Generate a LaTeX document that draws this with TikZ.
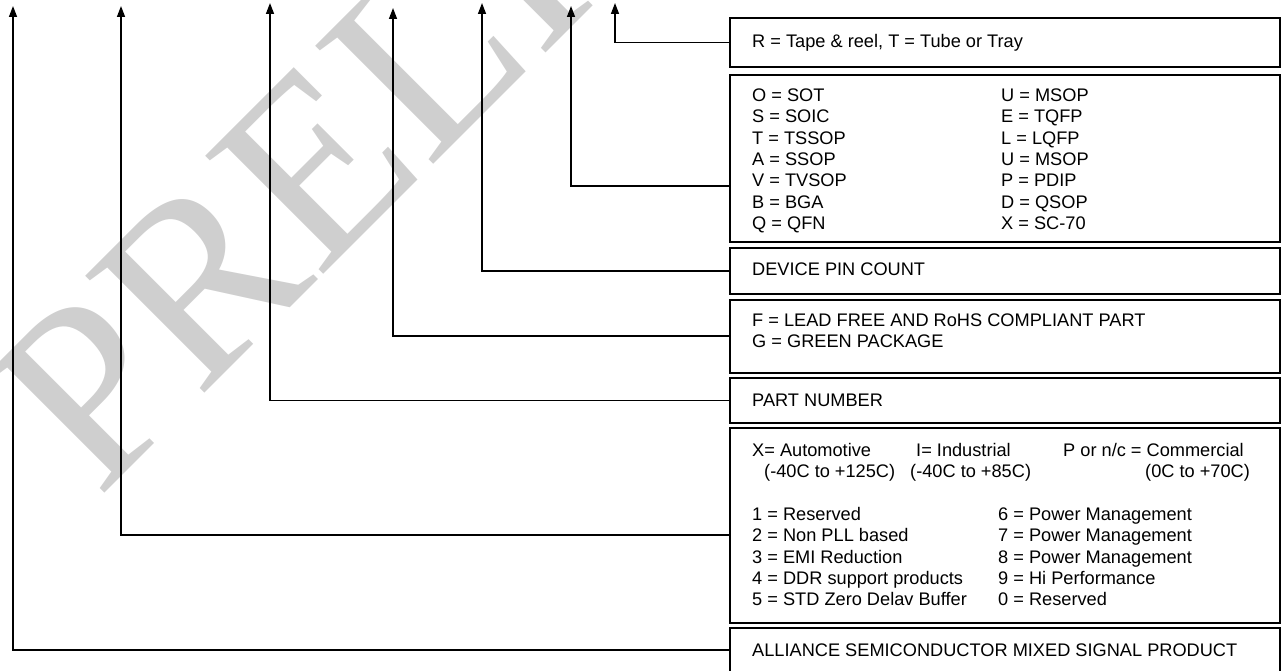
\documentclass[tikz,border=0pt]{standalone}
\usepackage{fontspec}
\setmainfont{Liberation Sans}
\newfontfamily\wmfont{Liberation Serif}
\usetikzlibrary{arrows.meta}
\begin{document}
\begin{tikzpicture}[x=1pt,y=-1pt,
  box/.style={draw=black, line width=2pt, fill=white, anchor=north west, inner sep=0pt, minimum width=550pt},
  txt/.style={anchor=base west, inner sep=0pt, font=\fontsize{18.2}{21.3}\selectfont},
  conn/.style={line width=1.5pt, -{Triangle[length=11pt,width=8pt]}},
  wmark/.style={rotate=45, anchor=base west, inner sep=0pt, text=black!19, font=\wmfont\fontsize{255}{255}\selectfont}
  ]
\useasboundingbox (0,0) rectangle (1287,671);
% watermark
\node[wmark] (wm) at (98,500) {PRELIMINARY};
% arrow tips
\coordinate (t1) at (13,6);
\coordinate (t2) at (121,6);
\coordinate (t3) at (270,3);
\coordinate (t4) at (393,8);
\coordinate (t5) at (482,3);
\coordinate (t6) at (571,6);
\coordinate (t7) at (615,3);
% boxes
\node[box, minimum height=49pt]  (b1) at (729,17)  {};
\node[box, minimum height=167pt] (b2) at (729,74)  {};
\node[box, minimum height=46pt]  (b3) at (729,247) {};
\node[box, minimum height=73pt]  (b4) at (729,299) {};
\node[box, minimum height=45pt]  (b5) at (729,377) {};
\node[box, minimum height=195pt] (b6) at (729,427) {};
\node[box, minimum height=80pt]  (b7) at (729,627) {};
% connectors
\draw[conn] (b1.west) -| (t7);
\draw[conn] (b2.west |- 0,186) -| (t6);
\draw[conn] (b3.west) -| (t5);
\draw[conn] (b4.west |- 0,336) -| (t4);
\draw[conn] (b5.west) -| (t3);
\draw[conn] (b6.west |- 0,535) -| (t2);
\draw[conn] (b7.west |- 0,650) -| (t1);
% texts
\node[txt] (x1) at (752,47.6) {R = Tape \& reel, T = Tube or Tray};
\node[txt] (x2) at (752,101.6) {\begin{tabular}[t]{@{}p{249pt}@{}l@{}}
O = SOT & U = MSOP\\
S = SOIC & E = TQFP\\
T = TSSOP & L = LQFP\\
A = SSOP & U = MSOP\\
V = TVSOP & P = PDIP\\
B = BGA & D = QSOP\\
Q = QFN & X = SC-70
\end{tabular}};
\node[txt] (x3) at (752,275) {DEVICE PIN COUNT};
\node[txt] (x4) at (752,326.6) {\begin{tabular}[t]{@{}l@{}}
F = LEAD FREE AND RoHS COMPLIANT PART\\
G = GREEN PACKAGE
\end{tabular}};
\node[txt] (x5) at (752,406) {PART NUMBER};
\node[txt] (x6a) at (752,456.6) {X= Automotive};
\node[txt] (x6b) at (916,456.6) {I= Industrial};
\node[txt] (x6c) at (1063,456.6) {P or n/c = Commercial};
\node[txt] (x6d) at (764,477.9) {(-40C to +125C)};
\node[txt] (x6e) at (910,477.9) {(-40C to +85C)};
\node[txt] (x6f) at (1145,477.9) {(0C to +70C)};
\node[txt] (x6g) at (752,520.5) {\begin{tabular}[t]{@{}p{246pt}@{}l@{}}
1 = Reserved & 6 = Power Management\\
2 = Non PLL based & 7 = Power Management\\
3 = EMI Reduction & 8 = Power Management\\
4 = DDR support products & 9 = Hi Performance\\
5 = STD Zero Delav Buffer & 0 = Reserved
\end{tabular}};
\node[txt] (x7) at (752,656.6) {ALLIANCE SEMICONDUCTOR MIXED SIGNAL PRODUCT};
\end{tikzpicture}
\end{document}
